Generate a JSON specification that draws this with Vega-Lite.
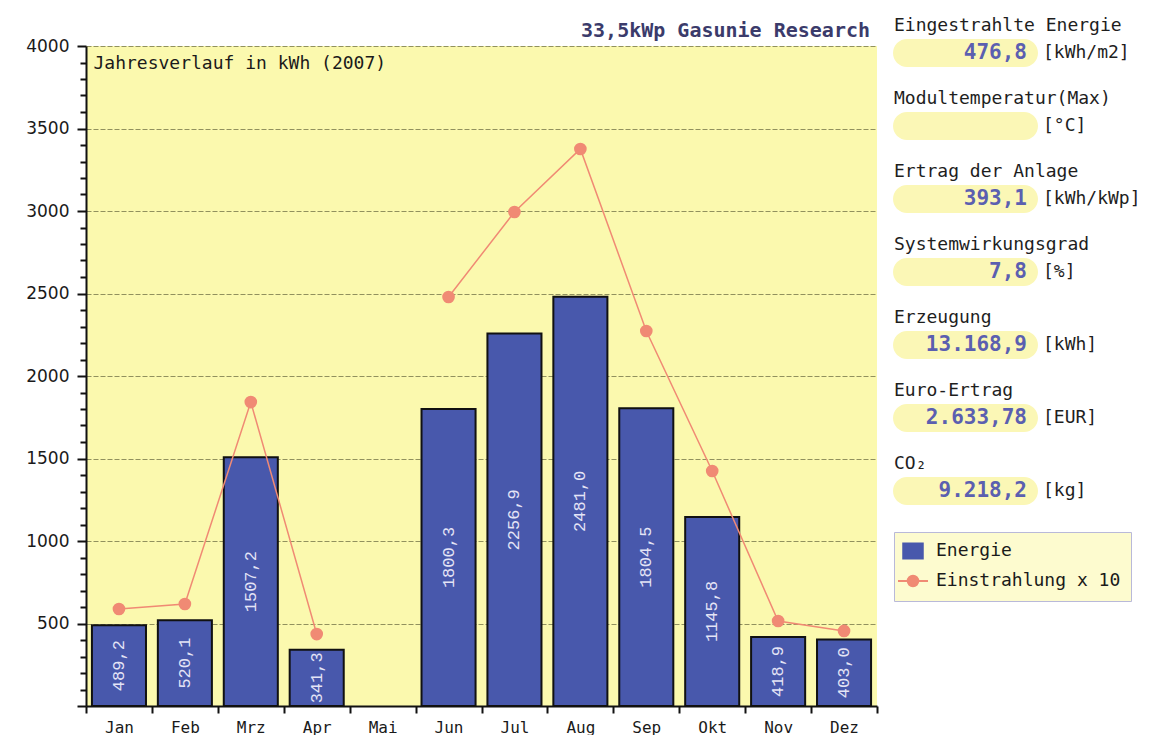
{
  "$schema": "https://vega.github.io/schema/vega-lite/v6.json",
  "background": "white",
  "padding": {"left": 25, "top": 17, "right": 0, "bottom": 0},
  "bounds": "flush",
  "spacing": 16,
  "config": {
    "view": {"stroke": null},
    "font": "DejaVu Sans Mono",
    "locale": {"number": {"decimal": ",", "thousands": ".", "grouping": [3], "currency": ["", " €"]}}
  },
  "hconcat": [
    {
      "width": 791,
      "height": 660,
      "view": {"fill": "#fbf9ae", "stroke": null},
      "title": {
        "text": "33,5kWp Gasunie Research",
        "anchor": "end",
        "orient": "top",
        "offset": -4,
        "dx": -8,
        "font": "DejaVu Sans Mono",
        "fontSize": 20,
        "fontWeight": "bold",
        "color": "#3b3b6b"
      },
      "data": {
        "values": [
          {"monat": "Jan", "energie": 489.2, "einstrahlung": 588},
          {"monat": "Feb", "energie": 520.1, "einstrahlung": 618},
          {"monat": "Mrz", "energie": 1507.2, "einstrahlung": 1842},
          {"monat": "Apr", "energie": 341.3, "einstrahlung": 436},
          {"monat": "Mai", "energie": null, "einstrahlung": null},
          {"monat": "Jun", "energie": 1800.3, "einstrahlung": 2479},
          {"monat": "Jul", "energie": 2256.9, "einstrahlung": 2994},
          {"monat": "Aug", "energie": 2481.0, "einstrahlung": 3376},
          {"monat": "Sep", "energie": 1804.5, "einstrahlung": 2273},
          {"monat": "Okt", "energie": 1145.8, "einstrahlung": 1424},
          {"monat": "Nov", "energie": 418.9, "einstrahlung": 515},
          {"monat": "Dez", "energie": 403.0, "einstrahlung": 455}
        ]
      },
      "encoding": {
        "x": {
          "field": "monat",
          "type": "ordinal",
          "sort": null,
          "scale": {
            "domain": ["Jan", "Feb", "Mrz", "Apr", "Mai", "Jun", "Jul", "Aug", "Sep", "Okt", "Nov", "Dez"],
            "paddingInner": 0,
            "paddingOuter": 0
          },
          "axis": {
            "title": null,
            "labelAngle": 0,
            "tickBand": "extent",
            "tickSize": 7,
            "tickWidth": 2,
            "tickColor": "#111111",
            "domainColor": "#111111",
            "domainWidth": 2,
            "labelFont": "DejaVu Sans Mono",
            "labelFontSize": 16,
            "labelColor": "#1a1a1a",
            "labelPadding": 6,
            "labelBaseline": "top",
            "grid": false
          }
        }
      },
      "resolve": {"scale": {"y": "independent"}},
      "layer": [
        {
          "layer": [
            {
              "mark": {"type": "bar", "width": {"band": 0.82}, "stroke": "#111111", "strokeWidth": 2},
              "encoding": {
                "y": {
                  "field": "energie",
                  "type": "quantitative",
                  "scale": {"domain": [0, 4000], "nice": false},
                  "axis": {
                    "values": [0, 100, 200, 300, 400, 500, 600, 700, 800, 900, 1000, 1100, 1200, 1300, 1400, 1500, 1600, 1700, 1800, 1900, 2000, 2100, 2200, 2300, 2400, 2500, 2600, 2700, 2800, 2900, 3000, 3100, 3200, 3300, 3400, 3500, 3600, 3700, 3800, 3900, 4000],
                    "tickCount": 100,
                    "format": "d",
                    "labelExpr": "datum.value > 0 && datum.value % 500 === 0 ? datum.label : ''",
                    "labelOverlap": false,
                    "labelFlush": false,
                    "labelFont": "DejaVu Sans",
                    "labelFontSize": 17,
                    "labelColor": "#1a1a1a",
                    "labelPadding": 8,
                    "tickSize": {"condition": {"test": "datum.value % 500 === 0", "value": 9}, "value": 6},
                    "tickWidth": 2,
                    "tickColor": "#111111",
                    "domainColor": "#111111",
                    "domainWidth": 2,
                    "grid": true,
                    "gridColor": "#77774a",
                    "gridDash": [5, 2],
                    "gridWidth": 1,
                    "gridOpacity": {"condition": {"test": "datum.value > 0 && datum.value % 500 === 0", "value": 0.8}, "value": 0},
                    "title": "Jahresverlauf in kWh (2007)",
                    "titleAngle": 0,
                    "titleAlign": "left",
                    "titleBaseline": "middle",
                    "titleX": 7,
                    "titleY": 17,
                    "titleFont": "DejaVu Sans Mono",
                    "titleFontSize": 18,
                    "titleFontWeight": "normal",
                    "titleColor": "#1a1a1a"
                  }
                },
                "color": {
                  "datum": "Energie",
                  "scale": {"domain": ["Energie", "Einstrahlung x 10"], "range": ["#4858ac", "#f08a74"]},
                  "legend": {
                    "orient": "none",
                    "legendX": 808,
                    "legendY": 486,
                    "title": null,
                    "direction": "vertical",
                    "padding": 10,
                    "fillColor": "#fdfbcf",
                    "strokeColor": "#b9b9d9",
                    "labelFont": "DejaVu Sans Mono",
                    "labelFontSize": 18,
                    "labelColor": "#1a1a1a",
                    "labelOffset": 14,
                    "labelLimit": 300,
                    "symbolSize": 225,
                    "symbolStrokeWidth": 2,
                    "rowPadding": 8,
                    "encode": {
                      "symbols": {
                        "update": {
                          "shape": {"signal": "datum.value === 'Energie' ? 'M-1.3,-1H1.3V1H-1.3Z' : 'M-2,0H2M-0.7,0A0.7,0.7 0 1 1 0.7,0A0.7,0.7 0 1 1 -0.7,0Z'"},
                          "fill": {"signal": "datum.value === 'Energie' ? '#4858ac' : '#f08a74'"},
                          "stroke": {"signal": "datum.value === 'Energie' ? '#111111' : '#f08a74'"},
                          "strokeWidth": {"value": 2},
                          "opacity": {"value": 1}
                        }
                      }
                    }
                  }
                }
              }
            },
            {
              "mark": {
                "type": "line",
                "strokeWidth": 1.5,
                "invalid": "break-paths-filter-domains",
                "point": {"filled": true, "size": 160, "opacity": 1}
              },
              "encoding": {
                "y": {"field": "einstrahlung", "type": "quantitative"},
                "color": {
                  "datum": "Einstrahlung x 10",
                  "legend": {
                    "orient": "none",
                    "legendX": 808,
                    "legendY": 486,
                    "title": null,
                    "direction": "vertical",
                    "padding": 10,
                    "fillColor": "#fdfbcf",
                    "strokeColor": "#b9b9d9",
                    "labelFont": "DejaVu Sans Mono",
                    "labelFontSize": 18,
                    "labelColor": "#1a1a1a",
                    "labelOffset": 14,
                    "labelLimit": 300,
                    "symbolSize": 225,
                    "symbolStrokeWidth": 2,
                    "rowPadding": 8,
                    "encode": {
                      "symbols": {
                        "update": {
                          "shape": {"signal": "datum.value === 'Energie' ? 'M-1.3,-1H1.3V1H-1.3Z' : 'M-2,0H2M-0.7,0A0.7,0.7 0 1 1 0.7,0A0.7,0.7 0 1 1 -0.7,0Z'"},
                          "fill": {"signal": "datum.value === 'Energie' ? '#4858ac' : '#f08a74'"},
                          "stroke": {"signal": "datum.value === 'Energie' ? '#111111' : '#f08a74'"},
                          "strokeWidth": {"value": 2},
                          "opacity": {"value": 1}
                        }
                      }
                    }
                  }
                }
              }
            }
          ]
        },
        {
          "mark": {"type": "text", "angle": 270, "align": "center", "baseline": "middle", "font": "Liberation Mono", "fontSize": 17, "color": "#e4e4f6"},
          "encoding": {
            "y": {"field": "energie", "type": "quantitative", "scale": {"domain": [0, 8000], "nice": false}, "axis": null},
            "text": {"field": "energie", "type": "quantitative", "format": ".1f"}
          }
        }
      ]
    },
    {
      "width": 145,
      "height": 511,
      "data": {
        "values": [
          {"nr": 1, "titel": "Eingestrahlte Energie", "wert": "476,8", "einheit": "[kWh/m2]"},
          {"nr": 2, "titel": "Modultemperatur(Max)", "wert": "", "einheit": "[°C]"},
          {"nr": 3, "titel": "Ertrag der Anlage", "wert": "393,1", "einheit": "[kWh/kWp]"},
          {"nr": 4, "titel": "Systemwirkungsgrad", "wert": "7,8", "einheit": "[%]"},
          {"nr": 5, "titel": "Erzeugung", "wert": "13.168,9", "einheit": "[kWh]"},
          {"nr": 6, "titel": "Euro-Ertrag", "wert": "2.633,78", "einheit": "[EUR]"},
          {"nr": 7, "titel": "CO₂", "wert": "9.218,2", "einheit": "[kg]"}
        ]
      },
      "encoding": {
        "y": {"field": "nr", "type": "ordinal", "axis": null, "scale": {"paddingInner": 0, "paddingOuter": 0}}
      },
      "layer": [
        {
          "mark": {"type": "bar", "height": 28, "cornerRadius": 14, "yOffset": -29.5, "color": "#fbf7b6"},
          "encoding": {
            "x": {"datum": 0, "type": "quantitative", "scale": {"domain": [0, 1]}, "axis": null},
            "x2": {"datum": 1}
          }
        },
        {
          "mark": {"type": "text", "align": "left", "baseline": "middle", "dx": 1, "dy": -56.5, "font": "DejaVu Sans Mono", "fontSize": 18, "color": "#1e1e1e"},
          "encoding": {
            "x": {"datum": 0, "type": "quantitative"},
            "text": {"field": "titel"}
          }
        },
        {
          "mark": {"type": "text", "align": "right", "baseline": "middle", "dx": -11, "dy": -29.5, "font": "DejaVu Sans Mono", "fontSize": 21, "fontWeight": "bold", "color": "#5b5fb0"},
          "encoding": {
            "x": {"datum": 1, "type": "quantitative"},
            "text": {"field": "wert"}
          }
        },
        {
          "mark": {"type": "text", "align": "left", "baseline": "middle", "dx": 5, "dy": -29.5, "font": "DejaVu Sans Mono", "fontSize": 18, "color": "#1e1e1e"},
          "encoding": {
            "x": {"datum": 1, "type": "quantitative"},
            "text": {"field": "einheit"}
          }
        }
      ]
    }
  ]
}
